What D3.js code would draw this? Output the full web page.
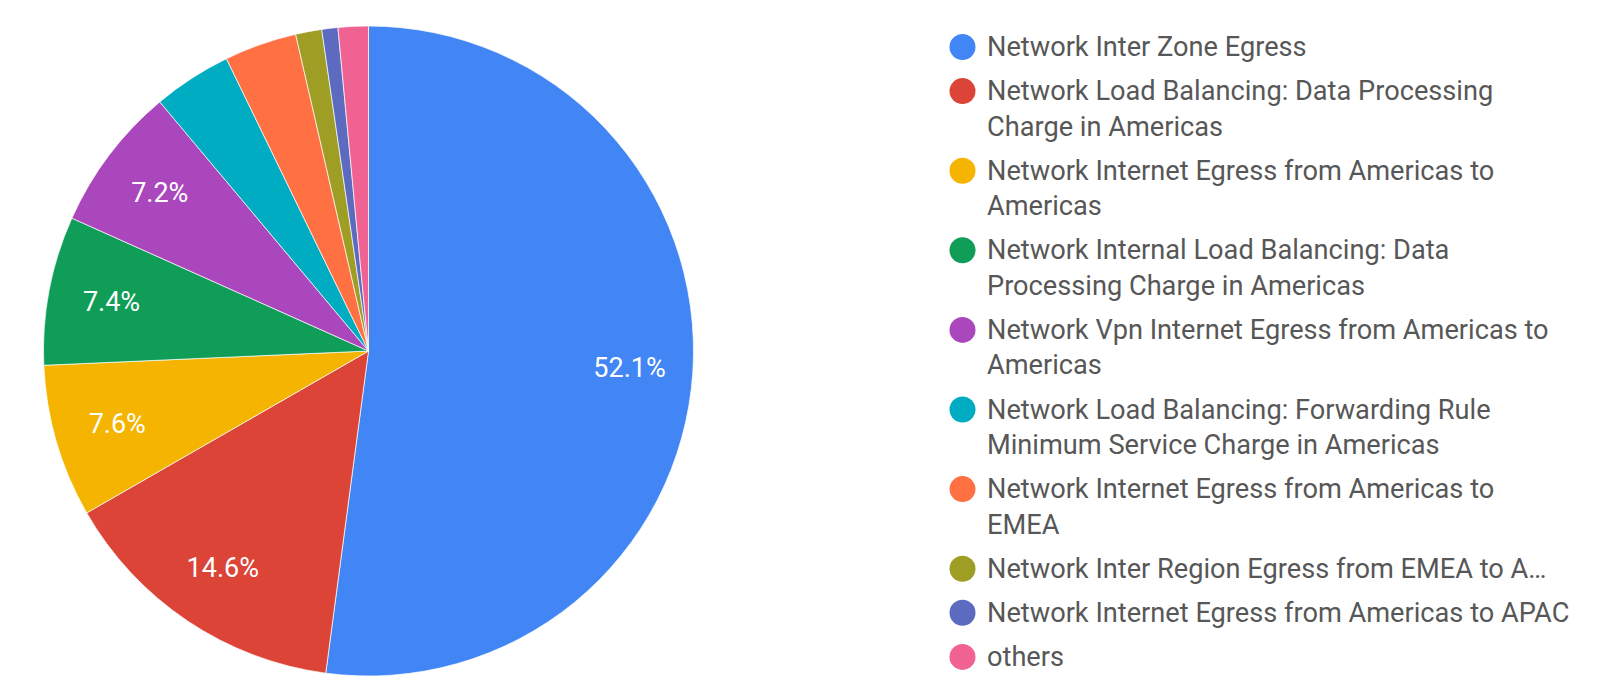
<!DOCTYPE html>
<html>
<head>
<meta charset="utf-8">
<script src="https://cdn.jsdelivr.net/npm/d3@7"></script>
<style>
  html, body { margin: 0; padding: 0; background: #ffffff; }
  svg { display: block; }
</style>
</head>
<body>
<svg id="chart" width="1600" height="684"></svg>
<script>
// ---- data ----
const categories = [
  "Network Inter Zone Egress",
  "Network Load Balancing: Data Processing Charge in Americas",
  "Network Internet Egress from Americas to Americas",
  "Network Internal Load Balancing: Data Processing Charge in Americas",
  "Network Vpn Internet Egress from Americas to Americas",
  "Network Load Balancing: Forwarding Rule Minimum Service Charge in Americas",
  "Network Internet Egress from Americas to EMEA",
  "Network Inter Region Egress from EMEA to APAC",
  "Network Internet Egress from Americas to APAC",
  "others"
];
const values = [52.1, 14.6, 7.6, 7.4, 7.2, 3.9, 3.6, 1.3, 0.8, 1.5];
const legendLines = [
  ["Network Inter Zone Egress"],
  ["Network Load Balancing: Data Processing", "Charge in Americas"],
  ["Network Internet Egress from Americas to", "Americas"],
  ["Network Internal Load Balancing: Data", "Processing Charge in Americas"],
  ["Network Vpn Internet Egress from Americas to", "Americas"],
  ["Network Load Balancing: Forwarding Rule", "Minimum Service Charge in Americas"],
  ["Network Internet Egress from Americas to", "EMEA"],
  ["Network Inter Region Egress from EMEA to A\u2026"],
  ["Network Internet Egress from Americas to APAC"],
  ["others"]
];
const colors = ["#4285f4", "#db4437", "#f4b400", "#0f9d58", "#ab47bc",
                "#00acc1", "#ff7043", "#9e9d24", "#5c6bc0", "#f06292"];
const labelMin = 5; // only slices >= 5% get labels

// ---- layout ----
const cx = 368.5, cy = 351, R = 325;
const svg = d3.select("#chart");
const color = d3.scaleOrdinal().domain(categories).range(colors);

const data = categories.map((c, i) => ({ name: c, value: values[i], lines: legendLines[i] }));
const pie = d3.pie().value(d => d.value).sort(null);
const arcs = pie(data);
const arc = d3.arc().innerRadius(0).outerRadius(R);
const labelArc = d3.arc().innerRadius(R * 0.805).outerRadius(R * 0.805);
const total = d3.sum(values);

const g = svg.append("g").attr("transform", `translate(${cx},${cy})`);
g.selectAll("path.slice").data(arcs).join("path")
  .attr("class", "slice")
  .attr("d", arc)
  .attr("fill", d => color(d.data.name))
  .attr("stroke", "#ffffff")
  .attr("stroke-width", 0.7);

g.selectAll("text.pct").data(arcs.filter(d => d.data.value / total * 100 >= labelMin)).join("text")
  .attr("class", "pct")
  .attr("transform", d => `translate(${labelArc.centroid(d)})`)
  .attr("text-anchor", "middle")
  .attr("dominant-baseline", "central")
  .attr("fill", "#ffffff")
  .style("font-family", "Roboto, 'Noto Sans', sans-serif")
  .style("font-size", "27px")
  .text(d => d3.format(".1f")(d.data.value / total * 100) + "%");

// ---- legend ----
const lx = 962.5, ltx = 987, ly0 = 47, lineH = 35.5, gap = 8.6;
let y = ly0;
const lg = svg.append("g");
data.forEach(d => {
  const item = lg.append("g").attr("transform", `translate(0,${y})`);
  item.append("circle").attr("cx", lx).attr("cy", 0).attr("r", 13)
    .attr("fill", color(d.name));
  const t = item.append("text")
    .attr("x", ltx).attr("y", 0)
    .attr("fill", "#575757")
    .style("font-family", "Roboto, 'Noto Sans', sans-serif")
    .style("font-size", "27.2px");
  d.lines.forEach((ln, i) => {
    t.append("tspan").attr("x", ltx).attr("y", i * lineH)
      .attr("dominant-baseline", "central").text(ln);
  });
  y += d.lines.length * lineH + gap;
});
</script>
</body>
</html>
